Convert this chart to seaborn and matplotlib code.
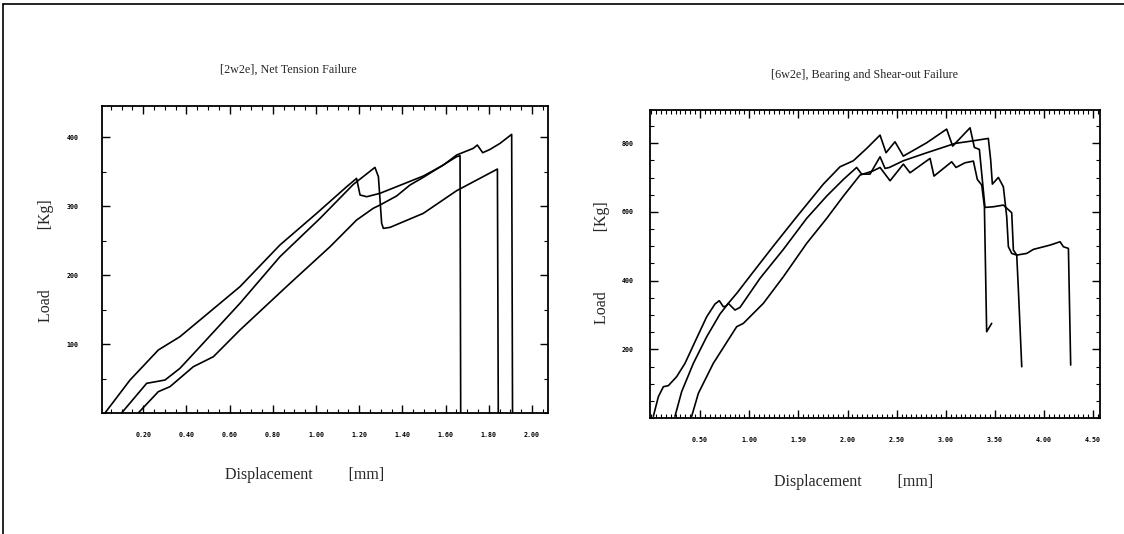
import matplotlib
matplotlib.use("Agg")
import matplotlib.pyplot as plt
import seaborn as sns
import pandas as pd
import numpy as np
from matplotlib.ticker import MultipleLocator, FixedLocator, FixedFormatter
from matplotlib.lines import Line2D

# ---------------- data: [2w2e] Net Tension Failure ----------------
nt_a_x = [0.023, 0.139, 0.270, 0.370, 0.463, 0.648, 0.833, 1.003, 1.142, 1.188, 1.196, 1.204,
          1.235, 1.296, 1.373, 1.497, 1.590, 1.651, 1.728, 1.747, 1.772, 1.806, 1.852, 1.906, 1.910]
nt_a_y = [0, 47.8, 91.3, 110.6, 134.8, 183.1, 243.5, 289.4, 328.0, 340.1, 328.0, 316.0,
          313.5, 318.4, 328.0, 343.5, 359.4, 373.9, 383.6, 388.4, 377.3, 382.1, 390.8, 403.9, 0]

nt_b_x = [0.100, 0.216, 0.301, 0.370, 0.463, 0.648, 0.833, 1.019, 1.173, 1.273, 1.289, 1.304,
          1.312, 1.343, 1.497, 1.651, 1.840, 1.844]
nt_b_y = [0, 43.0, 47.8, 64.7, 96.1, 159.0, 226.5, 282.2, 331.4, 356.0, 342.5, 275.0,
          267.6, 269.1, 289.4, 322.2, 353.6, 0]

nt_c_x = [0.177, 0.270, 0.324, 0.432, 0.525, 0.648, 0.880, 1.065, 1.188, 1.265, 1.296, 1.373,
          1.435, 1.497, 1.651, 1.667, 1.670]
nt_c_y = [0, 30.9, 38.2, 67.1, 81.6, 120.3, 188.0, 241.0, 279.7, 296.7, 301.4, 314.5,
          330.4, 341.6, 371.5, 372.9, 0]

# ---------------- data: [6w2e] Bearing and Shear-out Failure ----------------
bs_p_x = [0.024, 0.075, 0.126, 0.176, 0.261, 0.346, 0.448, 0.567, 0.651, 0.695, 0.736, 0.763,
          0.872, 1.042, 1.245, 1.483, 1.754, 1.924, 2.059, 2.195, 2.331, 2.392, 2.483, 2.568,
          2.806, 3.009, 3.070, 3.247, 3.291, 3.342, 3.376, 3.399, 3.484, 3.586, 3.671, 3.688,
          3.722, 3.824, 3.891, 4.061, 4.163, 4.197, 4.248, 4.271]
bs_p_y = [5, 62.1, 91.2, 94.1, 120.3, 159.2, 222.2, 295.0, 331.9, 341.6, 324.1, 326.0,
          362.9, 426.0, 500.7, 586.1, 681.2, 731.7, 749.2, 785.1, 823.9, 772.5, 804.5, 762.7,
          801.6, 841.3, 791.8, 845.2, 788.0, 782.2, 681.2, 613.3, 615.2, 620.1, 597.8, 489.1,
          474.5, 479.4, 491.0, 503.6, 513.3, 498.8, 493.9, 154.3]

bs_q_x = [0.244, 0.312, 0.431, 0.567, 0.702, 0.787, 0.855, 0.906, 1.109, 1.347, 1.584, 1.788,
          1.958, 2.093, 2.144, 2.229, 2.331, 2.382, 2.426, 2.568, 2.806, 3.094, 3.281, 3.433,
          3.457, 3.474, 3.535, 3.586, 3.620, 3.637, 3.671, 3.722, 3.739, 3.773]
bs_q_y = [5, 76.7, 159.2, 236.8, 302.8, 333.8, 314.4, 322.2, 406.6, 491.0, 581.3, 646.3,
          694.8, 729.7, 710.3, 710.3, 760.8, 726.8, 729.7, 749.2, 772.5, 799.6, 807.4, 814.2,
          751.1, 681.2, 700.6, 673.4, 586.1, 498.8, 479.4, 474.5, 372.6, 149.4]

bs_r_x = [0.414, 0.482, 0.634, 0.872, 0.940, 1.143, 1.347, 1.584, 1.788, 1.958, 2.127, 2.263,
          2.331, 2.433, 2.568, 2.636, 2.840, 2.880, 3.060, 3.104, 3.196, 3.281, 3.321, 3.366,
          3.393, 3.416, 3.467]
bs_r_y = [5, 71.8, 159.2, 265.9, 275.6, 333.8, 411.4, 508.5, 581.3, 646.3, 707.4, 720.0,
          729.7, 690.9, 739.4, 714.2, 756.0, 704.5, 746.2, 729.7, 743.3, 748.2, 694.8, 678.3,
          615.2, 251.3, 275.6]

left_xticks = [0.20, 0.40, 0.60, 0.80, 1.00, 1.20, 1.40, 1.60, 1.80, 2.00]
left_xlabels = ["0.20", "0.40", "0.60", "0.80", "1.00", "1.20", "1.40", "1.60", "1.80", "2.00"]
left_yticks = [100, 200, 300, 400]
right_xticks = [0.5, 1.0, 1.5, 2.0, 2.5, 3.0, 3.5, 4.0, 4.5]
right_xlabels = ["0.50", "1.00", "1.50", "2.00", "2.50", "3.00", "3.50", "4.00", "4.50"]
right_yticks = [200, 400, 600, 800]

titles = ["[2w2e], Net Tension Failure", "[6w2e], Bearing and Shear-out Failure"]
xlabel = "Displacement         [mm]"
ylabel = "Load               [Kg]"


def to_df(curves):
    frames = []
    for name, xs, ys in curves:
        frames.append(pd.DataFrame({"disp": xs, "load": ys, "spec": name}))
    return pd.concat(frames, ignore_index=True)


sns.set_style("ticks")
plt.rcParams["font.family"] = ["Liberation Serif", "DejaVu Serif"]

fig = plt.figure(figsize=(11.24, 5.34), dpi=100)
ax1 = fig.add_axes([0.0907, 0.2266, 0.3968, 0.5749])
ax2 = fig.add_axes([0.5783, 0.2172, 0.4004, 0.5768])

df1 = to_df([("a", nt_a_x, nt_a_y), ("b", nt_b_x, nt_b_y), ("c", nt_c_x, nt_c_y)])
df2 = to_df([("p", bs_p_x, bs_p_y), ("q", bs_q_x, bs_q_y), ("r", bs_r_x, bs_r_y)])

for ax, df in [(ax1, df1), (ax2, df2)]:
    sns.lineplot(data=df, x="disp", y="load", units="spec", estimator=None, sort=False,
                 color="black", linewidth=1.2, ax=ax, legend=False)

ax1.set_xlim(0.009, 2.074)
ax1.set_ylim(0, 445)
ax2.set_xlim(-0.01, 4.57)
ax2.set_ylim(0, 897)

ax1.xaxis.set_major_locator(FixedLocator(left_xticks))
ax1.xaxis.set_major_formatter(FixedFormatter(left_xlabels))
ax1.xaxis.set_minor_locator(MultipleLocator(0.05))
ax1.yaxis.set_major_locator(FixedLocator(left_yticks))
ax1.yaxis.set_minor_locator(MultipleLocator(50))

ax2.xaxis.set_major_locator(FixedLocator(right_xticks))
ax2.xaxis.set_major_formatter(FixedFormatter(right_xlabels))
ax2.xaxis.set_minor_locator(MultipleLocator(0.05))
ax2.yaxis.set_major_locator(FixedLocator(right_yticks))
ax2.yaxis.set_minor_locator(MultipleLocator(50))

for ax in (ax1, ax2):
    for lab in ax.get_xticklabels() + ax.get_yticklabels():
        lab.set_fontsize(4.8)
        lab.set_fontweight("bold")
        lab.set_family("DejaVu Sans Mono")
    ax.tick_params(which="both", direction="in", top=True, right=True, colors="black")
    ax.tick_params(which="major", length=6, width=1.0)
    ax.tick_params(which="minor", length=3, width=0.8)
    ax.tick_params(axis="x", which="major", pad=14)
    for s in ax.spines.values():
        s.set_linewidth(1.3)
        s.set_color("black")
    ax.set_facecolor("white")

ax1.tick_params(axis="y", which="major", pad=17)
ax2.tick_params(axis="y", which="major", pad=12)

ax1.set_title(titles[0], fontsize=8.7, pad=24, x=0.417)
ax2.set_title(titles[1], fontsize=8.7, pad=23, x=0.476)
ax1.set_xlabel(xlabel, fontsize=11.5)
ax2.set_xlabel(xlabel, fontsize=11.5)
ax1.set_ylabel(ylabel, fontsize=11.5)
ax2.set_ylabel(ylabel, fontsize=11.5)
ax1.xaxis.set_label_coords(0.455, -0.177)
ax2.xaxis.set_label_coords(0.452, -0.183)
ax1.yaxis.set_label_coords(-0.108, 0.495)
ax2.yaxis.set_label_coords(-0.09, 0.503)

# page border (top and left edges of the scanned frame)
fig.add_artist(Line2D([0.003, 1.0], [0.993, 0.993], color="black", lw=1.2, transform=fig.transFigure))
fig.add_artist(Line2D([0.003, 0.003], [0.0, 0.993], color="black", lw=1.2, transform=fig.transFigure))

fig.savefig("out.png", dpi=100, facecolor="white")
